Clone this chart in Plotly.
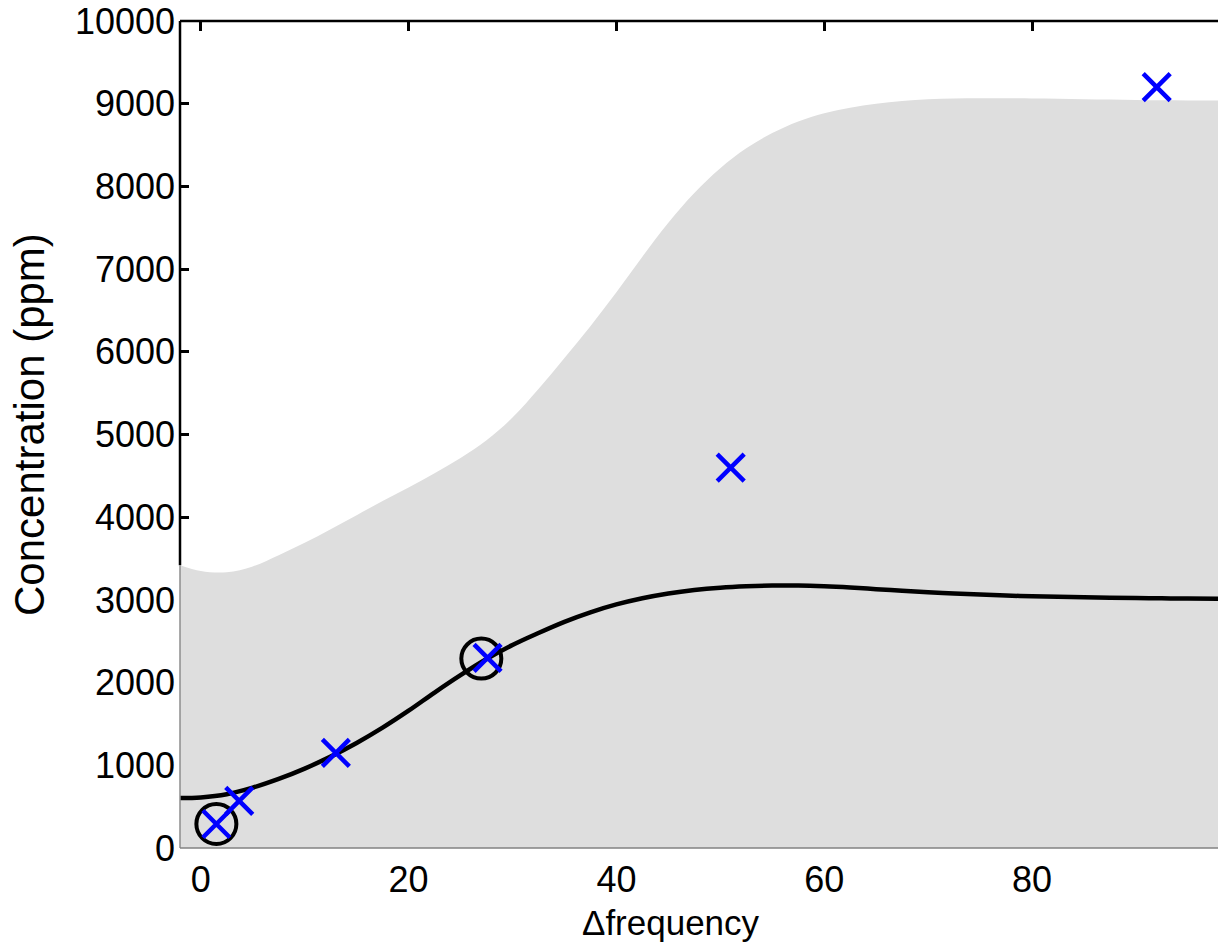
import plotly.graph_objects as go

# ---- data ----
obs_x = [1.5, 3.7, 13.0, 27.6, 51.0, 92.0]
obs_y = [290, 570, 1150, 2300, 4600, 9200]

circ_x = [1.5, 27.0]
circ_y = [290, 2290]

grid_x = [-2, 0, 2.5, 5, 7.5, 10, 12.5, 15, 17.5, 20, 22.5, 25, 27.5, 30,
          32.5, 35, 37.5, 40, 42.5, 45, 47.5, 50, 52.5, 55, 57.5, 60, 62.5,
          65, 67.5, 70, 72.5, 75, 77.5, 80, 82.5, 85, 87.5, 90, 92.5, 95, 97.9]

mean_y = [605, 612, 650, 730, 835, 960, 1105, 1270, 1455, 1660, 1880, 2090,
          2285, 2455, 2600, 2735, 2850, 2945, 3020, 3078, 3120, 3148, 3165,
          3174, 3174, 3165, 3150, 3130, 3110, 3092, 3077, 3064, 3053, 3044,
          3037, 3031, 3026, 3022, 3019, 3017, 3015]

upper_y = [3420, 3350, 3335, 3405, 3540, 3690, 3855, 4025, 4195, 4360, 4530,
           4715, 4930, 5205, 5550, 5925, 6310, 6720, 7150, 7560, 7920, 8220,
           8460, 8645, 8785, 8885, 8952, 8998, 9033, 9053, 9062, 9066, 9066,
           9063, 9060, 9055, 9050, 9045, 9042, 9040, 9040]

x_ticks = [0, 20, 40, 60, 80]
y_ticks = [0, 1000, 2000, 3000, 4000, 5000, 6000, 7000, 8000, 9000, 10000]

FONT = "Liberation Sans, Arial, Helvetica, sans-serif"
FILL = "rgb(222,222,222)"

fig = go.Figure()

fig.add_trace(go.Scatter(
    x=grid_x, y=upper_y, mode="lines", fill="tozeroy", fillcolor=FILL,
    line=dict(width=0, color=FILL, shape="spline", smoothing=1.0),
    hoverinfo="skip", showlegend=False))

fig.add_trace(go.Scatter(
    x=grid_x, y=mean_y, mode="lines",
    line=dict(color="black", width=4.5, shape="spline", smoothing=1.0),
    showlegend=False))

fig.add_trace(go.Scatter(
    x=circ_x, y=circ_y, mode="markers",
    marker=dict(symbol="circle-open", size=40, color="black",
                line=dict(width=4, color="black")),
    showlegend=False))

fig.add_trace(go.Scatter(
    x=obs_x, y=obs_y, mode="markers",
    marker=dict(symbol="x-thin", size=27, color="blue",
                line=dict(width=4.5, color="blue")),
    showlegend=False))

# axis frame lines (fill covers the lower-left part, leaving a grey edge)
shapes = [
    dict(type="line", xref="paper", yref="paper", x0=0, x1=1, y0=1, y1=1,
         line=dict(color="black", width=2.5), layer="above"),
    dict(type="line", xref="paper", yref="y", x0=0, x1=0, y0=upper_y[0], y1=10000,
         line=dict(color="black", width=2.5), layer="above"),
    dict(type="line", xref="paper", yref="y", x0=0, x1=0, y0=0, y1=upper_y[0],
         line=dict(color="rgb(140,140,140)", width=1.5), layer="above"),
    dict(type="line", xref="paper", yref="paper", x0=0, x1=1, y0=0, y1=0,
         line=dict(color="rgb(130,130,130)", width=1.5), layer="above"),
]

fig.update_layout(
    width=1218, height=944,
    margin=dict(l=180, r=0, t=21, b=96, pad=0),
    plot_bgcolor="white", paper_bgcolor="white",
    font=dict(family=FONT, size=36, color="black"),
    shapes=shapes,
    showlegend=False,
    annotations=[
        dict(text="Δfrequency", xref="paper", yref="paper", x=0.473, y=0,
             xanchor="center", yanchor="top", yshift=-53, showarrow=False,
             font=dict(family=FONT, size=35, color="black")),
        dict(text="Concentration (ppm)", xref="paper", yref="paper",
             x=-0.1445, y=0.5115, xanchor="center", yanchor="middle",
             textangle=-90, showarrow=False,
             font=dict(family=FONT, size=42, color="black")),
    ],
)

fig.update_xaxes(
    range=[-2, 97.9], tickvals=x_ticks, ticktext=[str(v) for v in x_ticks],
    ticks="inside", ticklen=10, tickwidth=2.5, tickcolor="black",
    mirror="ticks", showline=False, showgrid=False, zeroline=False,
    layer="below traces", ticklabelstandoff=7,
)
fig.update_yaxes(
    range=[0, 10000], tickvals=y_ticks, ticktext=[str(v) for v in y_ticks],
    ticks="inside", ticklen=9, tickwidth=2.5, tickcolor="black",
    mirror=False, showline=False, showgrid=False, zeroline=False,
    layer="below traces", ticklabelstandoff=4,
)

fig.write_html("out.html")
